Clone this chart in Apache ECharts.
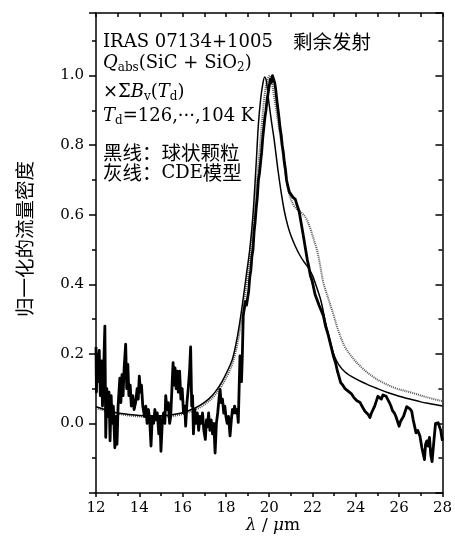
<!DOCTYPE html>
<html>
<head>
<meta charset="utf-8">
<script src="https://cdn.jsdelivr.net/npm/echarts@6/dist/echarts.min.js"></script>
<style>
  html, body { margin: 0; padding: 0; background: #fff; }
  #chart { width: 455px; height: 548px; }
</style>
</head>
<body>
<div id="chart"></div>
<script>
// Residual emission spectrum of IRAS 07134+1005: [wavelength (um), normalised flux]
const observed = [
  [12.0,0.22],[12.02,0.09],[12.05,0.2],[12.1,0.12],[12.15,0.21],[12.2,0.08],[12.25,0.18],[12.3,0.05],
  [12.35,0.15],[12.41,0.28],[12.45,-0.04],[12.5,0.1],[12.55,0.02],[12.6,0.09],[12.65,-0.05],[12.7,0.08],
  [12.75,0.0],[12.8,0.05],[12.87,-0.07],[12.92,0.02],[12.97,-0.06],[13.02,0.05],[13.1,0.13],[13.15,0.06],
  [13.2,0.14],[13.25,0.08],[13.3,0.16],[13.37,0.228],[13.42,0.1],[13.47,0.17],[13.52,0.08],[13.58,0.11],
  [13.63,0.05],[13.7,0.08],[13.76,0.04],[13.83,0.06],[13.9,0.1],[13.95,0.07],[14.0,0.136],[14.05,0.09],
  [14.1,0.11],[14.16,0.05],[14.24,0.02],[14.3,0.05],[14.36,0.0],[14.42,0.04],[14.48,0.01],[14.54,-0.065],
  [14.6,0.02],[14.66,0.0],[14.72,0.04],[14.77,0.01],[14.83,0.03],[14.9,-0.03],[14.95,0.02],[15.0,-0.08],
  [15.06,0.0],[15.12,0.03],[15.18,0.0],[15.22,0.08],[15.28,0.04],[15.34,0.06],[15.4,0.0],[15.45,0.02],
  [15.52,0.12],[15.56,0.175],[15.6,0.11],[15.65,0.16],[15.7,0.1],[15.75,0.15],[15.8,0.09],[15.86,0.15],
  [15.92,0.07],[15.98,0.1],[16.04,0.03],[16.1,0.05],[16.14,-0.008],[16.2,0.06],[16.26,0.1],[16.32,0.15],
  [16.37,0.22],[16.42,0.05],[16.46,0.08],[16.5,-0.03],[16.56,0.04],[16.62,0.0],[16.68,0.03],[16.74,-0.02],
  [16.8,0.02],[16.86,0.0],[16.92,0.03],[16.98,-0.02],[17.05,-0.046],[17.1,0.01],[17.15,-0.01],[17.2,0.03],
  [17.26,-0.02],[17.32,0.01],[17.38,-0.03],[17.44,0.0],[17.5,-0.085],[17.56,0.0],[17.62,0.03],[17.68,0.07],
  [17.73,0.098],[17.78,0.06],[17.84,0.07],[17.9,0.03],[17.95,0.05],[18.0,0.02],[18.06,0.0],[18.12,0.02],
  [18.19,-0.036],[18.25,0.01],[18.3,0.04],[18.36,0.03],[18.4,0.05],[18.46,0.03],[18.52,0.04],[18.57,0.003],
  [18.61,0.1],[18.65,0.194],[18.69,0.14],[18.72,0.12],[18.76,0.2],[18.8,0.31],[18.85,0.33],[18.9,0.35],
  [18.95,0.34],[19.0,0.36],[19.05,0.38],[19.1,0.42],[19.15,0.44],[19.2,0.48],[19.25,0.5],[19.3,0.55],
  [19.35,0.58],[19.4,0.62],[19.45,0.65],[19.5,0.7],[19.55,0.72],[19.6,0.75],[19.65,0.78],[19.7,0.82],
  [19.75,0.85],[19.8,0.88],[19.85,0.9],[19.9,0.93],[19.95,0.95],[20.0,0.97],[20.05,0.99],[20.1,0.98],
  [20.15,1.0],[20.2,1.005],[20.25,0.98],[20.3,0.96],[20.35,0.93],[20.4,0.905],[20.45,0.88],[20.5,0.85],
  [20.55,0.83],[20.6,0.8],[20.65,0.78],[20.7,0.75],[20.75,0.73],[20.8,0.7],[20.85,0.685],[20.93,0.665],
  [21.0,0.66],[21.1,0.65],[21.2,0.645],[21.3,0.625],[21.38,0.61],[21.45,0.585],[21.52,0.56],[21.6,0.53],
  [21.68,0.5],[21.76,0.47],[21.83,0.45],[21.9,0.425],[21.98,0.41],[22.05,0.39],[22.12,0.37],[22.2,0.357],
  [22.3,0.34],[22.4,0.325],[22.5,0.31],[22.6,0.28],[22.7,0.26],[22.8,0.235],[22.9,0.21],[22.98,0.19],
  [23.06,0.175],[23.15,0.15],[23.22,0.135],[23.3,0.117],[23.4,0.11],[23.5,0.1],[23.6,0.095],[23.7,0.09],
  [23.8,0.085],[23.9,0.075],[23.96,0.079],[24.05,0.065],[24.12,0.07],[24.2,0.06],[24.28,0.05],[24.35,0.045],
  [24.42,0.035],[24.5,0.04],[24.58,0.025],[24.65,0.017],[24.72,0.03],[24.8,0.035],[24.87,0.05],[24.95,0.065],
  [25.02,0.078],[25.1,0.083],[25.18,0.07],[25.25,0.082],[25.32,0.085],[25.4,0.078],[25.47,0.075],[25.55,0.06],
  [25.62,0.05],[25.7,0.036],[25.78,0.03],[25.85,0.02],[25.93,0.005],[26.0,-0.008],[26.06,0.005],[26.12,0.012],
  [26.2,0.02],[26.28,0.035],[26.35,0.048],[26.42,0.05],[26.5,0.042],[26.58,0.035],[26.65,0.01],[26.72,-0.01],
  [26.78,-0.027],[26.86,-0.02],[26.96,-0.036],[27.05,-0.07],[27.12,-0.09],[27.17,-0.104],[27.22,-0.06],[27.28,-0.05],
  [27.34,-0.065],[27.4,-0.04],[27.46,-0.09],[27.52,-0.11],[27.57,-0.113],[27.62,-0.04],[27.68,0.0],[27.74,0.004],
  [27.8,0.002],[27.86,0.0],[27.92,-0.02],[27.97,-0.04],[28.0,-0.05]
];

// Spherical-grain model (black line)
const sphereModel = [
  [12.0,0.048],[12.5,0.038],[13.0,0.03],[13.5,0.026],[14.0,0.023],[14.5,0.022],[15.0,0.022],[15.5,0.025],
  [16.0,0.031],[16.4,0.04],[16.8,0.052],[17.2,0.07],[17.5,0.09],[17.8,0.118],[18.1,0.155],[18.3,0.185],
  [18.5,0.24],[18.65,0.295],[18.8,0.36],[18.95,0.43],[19.1,0.5],[19.25,0.6],[19.4,0.75],[19.5,0.86],
  [19.6,0.93],[19.7,0.975],[19.79,0.996],[19.88,0.98],[19.97,0.93],[20.1,0.87],[20.24,0.81],[20.4,0.73],
  [20.55,0.665],[20.7,0.61],[20.85,0.57],[21.0,0.54],[21.2,0.51],[21.4,0.485],[21.6,0.465],[21.8,0.448],
  [22.0,0.425],[22.2,0.39],[22.4,0.35],[22.6,0.29],[22.8,0.24],[23.0,0.195],[23.2,0.17],[23.5,0.148],
  [24.0,0.128],[24.5,0.113],[25.0,0.1],[25.5,0.088],[26.0,0.078],[26.5,0.07],[27.0,0.062],[27.5,0.056],[28.0,0.05]
];

// CDE model (grey line)
const cdeModel = [
  [12.0,0.044],[12.5,0.035],[13.0,0.028],[13.5,0.023],[14.0,0.02],[14.5,0.019],[15.0,0.019],[15.5,0.021],
  [16.0,0.027],[16.4,0.035],[16.8,0.046],[17.2,0.063],[17.5,0.082],[17.8,0.108],[18.1,0.142],[18.3,0.172],
  [18.5,0.22],[18.65,0.27],[18.8,0.33],[18.95,0.4],[19.1,0.47],[19.25,0.56],[19.4,0.67],[19.55,0.78],
  [19.7,0.89],[19.8,0.95],[19.9,0.985],[20.02,1.0],[20.12,0.98],[20.25,0.93],[20.4,0.87],[20.55,0.81],
  [20.7,0.74],[20.85,0.68],[21.0,0.645],[21.15,0.625],[21.3,0.615],[21.5,0.605],[21.7,0.59],[21.9,0.56],
  [22.05,0.53],[22.2,0.5],[22.35,0.455],[22.5,0.405],[22.75,0.355],[22.98,0.31],[23.2,0.265],[23.5,0.22],
  [23.9,0.185],[24.35,0.156],[24.8,0.134],[25.26,0.117],[25.9,0.1],[26.6,0.088],[27.3,0.075],[28.0,0.064]
];

// Axis ranges and labelled y ticks
const xRange = [12, 28];
const yRange = [-0.2, 1.18];
const yTickLabels = [0.0, 0.2, 0.4, 0.6, 0.8, 1.0];

const SERIF = 'DejaVu Serif';
const CJK = 'Noto Sans CJK SC';
const AX = { color: '#000', width: 1.5 };

function frameAxis(extra) {
  return Object.assign({
    type: 'value',
    splitLine: { show: false },
    axisLine: { show: true, onZero: false, lineStyle: AX },
  }, extra);
}

const chart = echarts.init(document.getElementById('chart'), null, { renderer: 'canvas' });

const textRich = {
  i: { fontStyle: 'italic', fontFamily: SERIF, fontSize: 18, fill: '#000' },
  s: { fontFamily: SERIF, fontSize: 12, verticalAlign: 'bottom', lineHeight: 12, fill: '#000' },
  c: { fontFamily: CJK, fontSize: 19.5, fill: '#000' }
};

function note(x, y, text) {
  return {
    type: 'text', x: x, y: y, silent: true,
    style: {
      text: text, fill: '#000', fontFamily: SERIF, fontSize: 18, lineHeight: 22,
      textAlign: 'left', textVerticalAlign: 'middle', rich: textRich
    }
  };
}

chart.setOption({
  animation: false,
  backgroundColor: '#fff',
  grid: { left: 96, right: 8, top: 13, bottom: 55 },
  xAxis: [
    frameAxis({
      min: xRange[0], max: xRange[1], interval: 2, position: 'bottom',
      axisTick: { show: true, inside: false, length: 4, lineStyle: AX },
      minorTick: { show: true, splitNumber: 2, length: 3, lineStyle: AX },
      axisLabel: { color: '#000', fontFamily: SERIF, fontSize: 15, margin: 8 }
    }),
    frameAxis({
      min: xRange[0], max: xRange[1], interval: 2, position: 'top',
      axisTick: { show: true, inside: true, length: 4, lineStyle: AX },
      minorTick: { show: true, splitNumber: 2, length: 4, lineStyle: AX },
      axisLabel: { show: false }
    })
  ],
  yAxis: [
    frameAxis({
      min: yRange[0], max: yRange[1], interval: 0.2, position: 'left',
      axisTick: { show: true, inside: false, length: 7, lineStyle: AX },
      minorTick: { show: true, splitNumber: 2, length: 4, lineStyle: AX },
      axisLabel: {
        color: '#000', fontFamily: SERIF, fontSize: 15, margin: 12,
        formatter: v => yTickLabels.some(t => Math.abs(t - v) < 1e-6) ? v.toFixed(1) : ''
      }
    }),
    frameAxis({
      min: yRange[0], max: yRange[1], interval: 0.2, position: 'right',
      axisTick: { show: true, inside: true, length: 7, lineStyle: AX },
      minorTick: { show: true, splitNumber: 2, length: 4, lineStyle: AX },
      axisLabel: { show: false }
    })
  ],
  series: [
    {
      name: 'CDE', type: 'line', data: cdeModel, showSymbol: false, smooth: 0.35,
      lineStyle: { color: '#555', width: 2, type: [1, 1] }, z: 2
    },
    {
      name: 'sphere', type: 'line', data: sphereModel, showSymbol: false, smooth: 0.35,
      lineStyle: { color: '#000', width: 1.5 }, z: 3
    },
    {
      name: 'observed', type: 'line', data: observed, showSymbol: false,
      lineStyle: { color: '#000', width: 2.8, join: 'round' }, z: 4
    }
  ],
  graphic: [
    note(103, 42, 'IRAS 07134+1005'),
    { type: 'text', x: 293, y: 42, silent: true,
      style: { text: '剩余发射', fill: '#000', fontFamily: CJK, fontSize: 19.5,
               textAlign: 'left', textVerticalAlign: 'middle' } },
    note(103, 63, '{i|Q}{s|abs}(SiC + SiO{s|2})'),
    note(103, 92, '×Σ{i|B}{s|v}({i|T}{s|d})'),
    note(103, 116, '{i|T}{s|d}=126,···,104 K'),
    note(103, 153, '{c|黑线：球状颗粒}'),
    note(103, 173, '{c|灰线：}CDE{c|模型}'),
    { type: 'text', x: 25, y: 239, rotation: Math.PI / 2, silent: true,
      style: { text: '归一化的流量密度', fill: '#000', fontFamily: CJK, fontSize: 19.5,
               textAlign: 'center', textVerticalAlign: 'middle' } },
    { type: 'text', x: 273, y: 526, silent: true,
      style: { text: '{i|λ} / {i|μ}m', fill: '#000', fontFamily: SERIF, fontSize: 17,
               textAlign: 'center', textVerticalAlign: 'middle',
               rich: { i: { fontStyle: 'italic', fontFamily: SERIF, fontSize: 17, fill: '#000' } } } }
  ]
});
</script>
</body>
</html>
